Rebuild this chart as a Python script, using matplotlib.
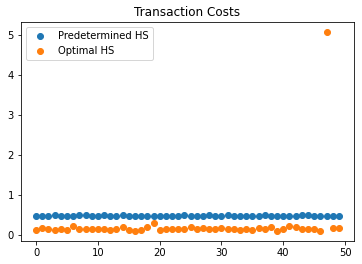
import numpy as np
import matplotlib
matplotlib.use("Agg")
import matplotlib.pyplot as plt

steps = list(range(50))
predetermined_hs = [0.47, 0.47, 0.47, 0.49, 0.47, 0.47, 0.47, 0.48, 0.49, 0.47,
                    0.47, 0.48, 0.47, 0.47, 0.48, 0.47, 0.47, 0.47, 0.47, 0.47,
                    0.47, 0.47, 0.47, 0.47, 0.48, 0.47, 0.47, 0.47, 0.48, 0.47,
                    0.47, 0.48, 0.47, 0.47, 0.47, 0.47, 0.47, 0.48, 0.47, 0.47,
                    0.47, 0.47, 0.47, 0.48, 0.49, 0.47, 0.47, 0.47, 0.47, 0.47]
optimal_hs = [0.12, 0.16, 0.14, 0.12, 0.14, 0.12, 0.22, 0.13, 0.15, 0.13,
              0.13, 0.13, 0.12, 0.13, 0.20, 0.12, 0.09, 0.11, 0.19, 0.30,
              0.12, 0.13, 0.15, 0.13, 0.14, 0.18, 0.14, 0.16, 0.15, 0.13,
              0.17, 0.14, 0.13, 0.12, 0.13, 0.12, 0.17, 0.15, 0.20, 0.09,
              0.13, 0.22, 0.18, 0.14, 0.13, 0.13, 0.09, 5.07, 0.16, 0.17]

fig = plt.figure(figsize=(362 / 72, 264 / 72), dpi=72)
ax = fig.add_axes([21 / 362, 1 - 241 / 264, 333 / 362, 219 / 264])
ax.scatter(steps, predetermined_hs, label="Predetermined HS")
ax.scatter(steps, optimal_hs, label="Optimal HS")
ax.set_title("Transaction Costs")
ax.legend(loc="upper left")
fig.savefig("out.png", dpi=72)
